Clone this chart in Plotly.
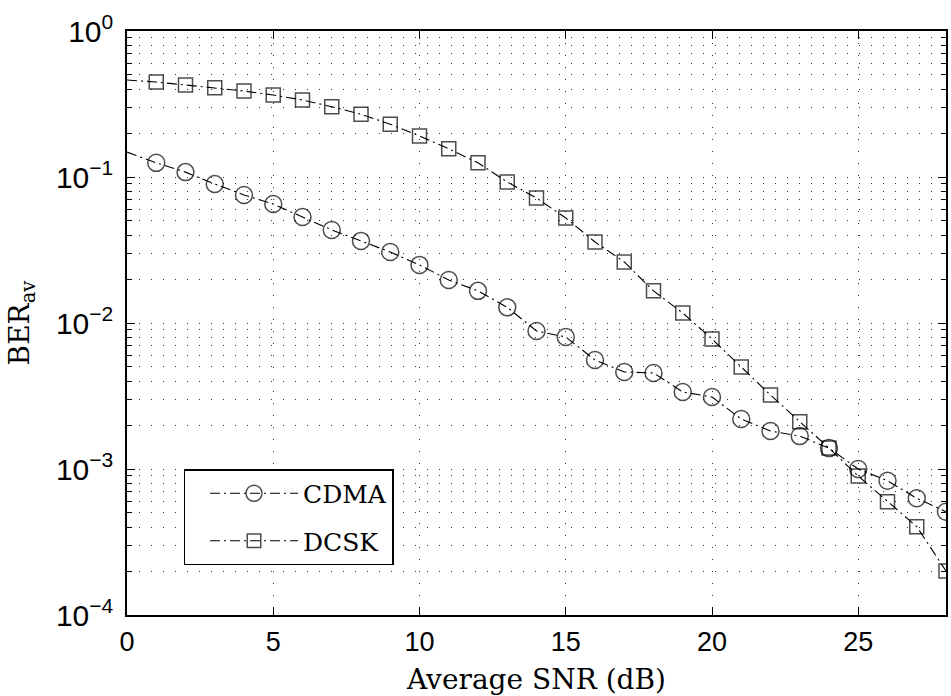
import plotly.graph_objects as go

# ---- data ----
snr = list(range(0, 29))
cdma = [0.148, 0.125, 0.108, 0.0896, 0.0753, 0.0653, 0.0532, 0.0434, 0.0365, 0.0306,
        0.0250, 0.0197, 0.0166, 0.0128, 0.00882, 0.00802, 0.00558, 0.00462, 0.00455,
        0.00337, 0.00311, 0.00220, 0.00182, 0.00168, 0.00139, 0.00100, 0.00083,
        0.00063, 0.00051]
dcsk = [0.462, 0.447, 0.427, 0.409, 0.388, 0.364, 0.337, 0.303, 0.269, 0.230,
        0.191, 0.156, 0.125, 0.0924, 0.0718, 0.0524, 0.0359, 0.0262, 0.0166,
        0.0117, 0.00777, 0.00500, 0.00321, 0.00211, 0.00139, 0.000895, 0.000597,
        0.000403, 0.000200]
series_names = ["CDMA", "DCSK"]
x_ticks = [0, 5, 10, 15, 20, 25]
y_tickvals = [1e-4, 1e-3, 1e-2, 1e-1, 1]
y_ticktext = ["10<sup>−4</sup>", "10<sup>−3</sup>", "10<sup>−2</sup>", "10<sup>−1</sup>", "10<sup>0</sup>"]

SERIF = "DejaVu Serif"
SANS = "Liberation Sans, Arial, sans-serif"
DASH = "10px,4px,2px,4px"
GRIDDOT = "1px,11px"

# markers are not drawn at SNR = 0 (line only)
msize_c = [0] + [17] * (len(snr) - 1)
msize_s = [0] + [14] * (len(snr) - 1)

fig = go.Figure()
fig.add_trace(go.Scatter(
    x=snr, y=cdma, name=series_names[0], mode="lines+markers", legendgroup="a",
    line=dict(color="black", width=1.1, dash=DASH),
    marker=dict(symbol="circle-open", size=msize_c, color="black", line=dict(width=1.5, color="black")),
))
fig.add_trace(go.Scatter(
    x=snr, y=dcsk, name=series_names[1], mode="lines+markers", legendgroup="b",
    line=dict(color="black", width=1.1, dash=DASH),
    marker=dict(symbol="square-open", size=msize_s, color="black", line=dict(width=1.5, color="black")),
))

fig.update_layout(
    width=951, height=696,
    margin=dict(l=127, r=3, t=31, b=81),
    paper_bgcolor="white", plot_bgcolor="white",
    showlegend=True,
    legend=dict(
        x=0.069, y=0.250, xanchor="left", yanchor="top",
        bgcolor="white", bordercolor="black", borderwidth=1.5,
        font=dict(family=SERIF, size=25, color="black"),
        traceorder="grouped", tracegroupgap=12, itemwidth=88, indentation=20,
    ),
    xaxis=dict(
        range=[0, 28], tickmode="array", tickvals=x_ticks,
        showline=True, linecolor="black", linewidth=1.5, mirror="allticks",
        ticks="inside", ticklen=8, tickcolor="black", tickwidth=1,
        tickfont=dict(family=SANS, size=27, color="black"),
        ticklabelstandoff=2,
        showgrid=True, gridcolor="#333333", gridwidth=1, griddash=GRIDDOT,
        zeroline=False,
        title=dict(text="Average SNR (dB)", font=dict(family=SERIF, size=28, color="black"), standoff=13),
    ),
    yaxis=dict(
        type="log", range=[-4, 0], tickmode="array", tickvals=y_tickvals, ticktext=y_ticktext,
        showline=True, linecolor="black", linewidth=1.5, mirror="allticks",
        ticks="inside", ticklen=8, tickcolor="black", tickwidth=1,
        tickfont=dict(family=SANS, size=30, color="black"),
        ticklabelstandoff=6,
        showgrid=True, gridcolor="#333333", gridwidth=1, griddash=GRIDDOT,
        zeroline=False,
        minor=dict(dtick="D1", ticks="inside", ticklen=5, tickcolor="black", tickwidth=1,
                   showgrid=True, gridcolor="#333333", gridwidth=1, griddash=GRIDDOT),
        title=dict(text="BER<sub>av</sub>", font=dict(family=SERIF, size=28, color="black"), standoff=18),
    ),
)

fig.write_html("out.html")
